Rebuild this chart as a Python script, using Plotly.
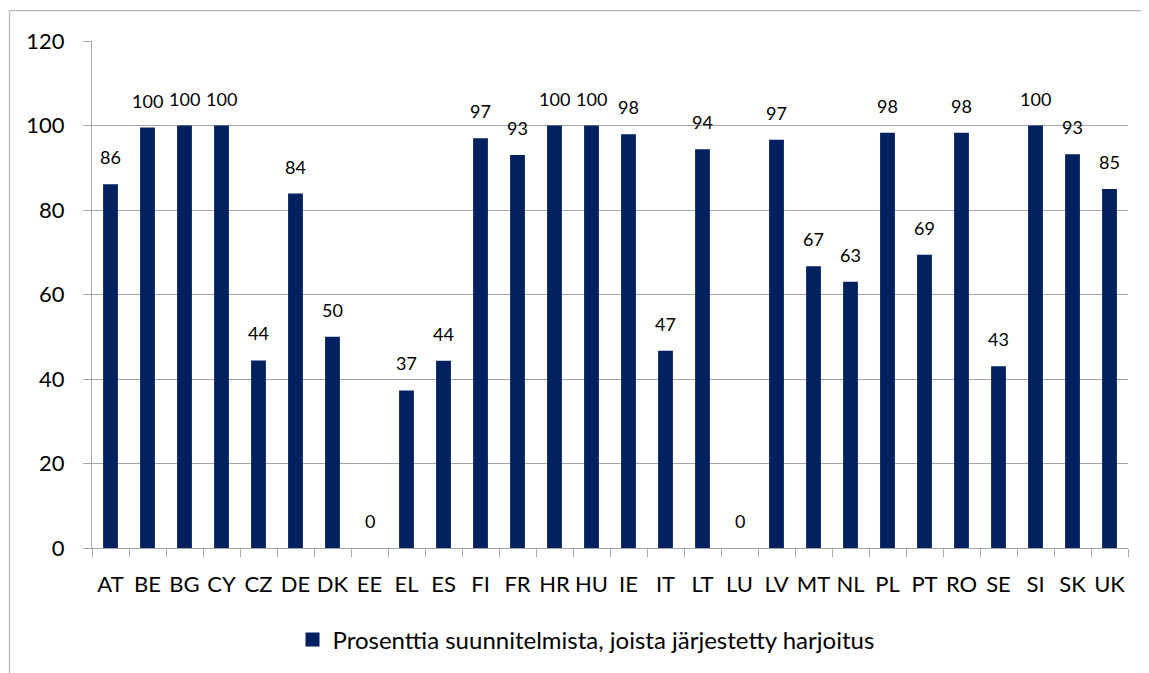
import plotly.graph_objects as go

countries = ["AT", "BE", "BG", "CY", "CZ", "DE", "DK", "EE", "EL", "ES", "FI", "FR", "HR", "HU",
             "IE", "IT", "LT", "LU", "LV", "MT", "NL", "PL", "PT", "RO", "SE", "SI", "SK", "UK"]
values = [86.1, 99.5, 100, 100, 44.4, 83.9, 50, 0, 37.3, 44.3, 97.0, 93.0, 100, 100,
          97.9, 46.7, 94.4, 0, 96.6, 66.7, 63.0, 98.3, 69.4, 98.3, 43.0, 100, 93.2, 85.0]
labels = [str(round(v)) for v in values]
series_name = "Prosenttia suunnitelmista, joista järjestetty harjoitus"
y_ticks = [0, 20, 40, 60, 80, 100, 120]

OFF = 8  # page body margin
W, H = 1141, 665
# target plot area in screenshot pixels: x 92..1128, y 41..549
L, T = 92 - OFF, 41 - OFF
R = W - (1128 - OFF)
B = H - (549 - OFF)
pw, ph = W - L - R, H - T - B

def px(x):
    return (x - OFF - L) / pw

def py(y):
    return (549 - y) / ph

font = "Lato, Calibri, Carlito, sans-serif"
navy = "#002060"

fig = go.Figure()
fig.add_trace(go.Bar(
    x=countries, y=values, name=series_name,
    marker=dict(color=navy, line=dict(width=0)),
    width=0.4,
    showlegend=False,
))
# legend entry with a larger square swatch
fig.add_trace(go.Scatter(
    x=[None], y=[None], mode="markers", name=series_name,
    marker=dict(symbol="square", size=14, color=navy),
    showlegend=True,
))

annotations = [
    dict(x=c, y=v, xref="x", yref="y", text=t, showarrow=False,
         yanchor="bottom", yshift=14,
         font=dict(family=font, size=18, color="#000000"))
    for c, v, t in zip(countries, values, labels)
]

fig.update_layout(
    width=W, height=H,
    margin=dict(l=L, r=R, t=T, b=B),
    paper_bgcolor="white", plot_bgcolor="white",
    font=dict(family=font, color="#000000"),
    showlegend=True,
    legend=dict(orientation="h", x=px(586), xanchor="center", y=py(640), yanchor="middle",
                font=dict(family=font, size=24, color="#000000"),
                itemwidth=30),
    bargap=0.6,
    annotations=annotations,
    shapes=[dict(type="rect", xref="paper", yref="paper",
                 x0=px(9.5), x1=px(1170), y0=py(700), y1=py(10.5),
                 line=dict(color="#b8b8b8", width=1.3), fillcolor="rgba(0,0,0,0)", layer="below")],
)

fig.update_xaxes(
    type="category", categoryorder="array", categoryarray=countries,
    showline=True, linecolor="#a6a6a6", linewidth=1.2,
    ticks="outside", tickson="boundaries", ticklen=8, tickcolor="#a6a6a6", tickwidth=1.2,
    tickfont=dict(family=font, size=22, color="#000000"),
    tickangle=0,
    ticklabelstandoff=16,
    showgrid=False, zeroline=False,
)
fig.update_yaxes(
    range=[0, 120], tickvals=y_ticks,
    showline=True, linecolor="#a6a6a6", linewidth=1.2,
    ticks="outside", ticklen=8, tickcolor="#a6a6a6", tickwidth=1.2,
    tickfont=dict(family=font, size=22, color="#000000"),
    ticklabelstandoff=14,
    showgrid=True, gridcolor="#a6a6a6", gridwidth=1.2,
    zeroline=False,
)

fig.write_html("out.html")
